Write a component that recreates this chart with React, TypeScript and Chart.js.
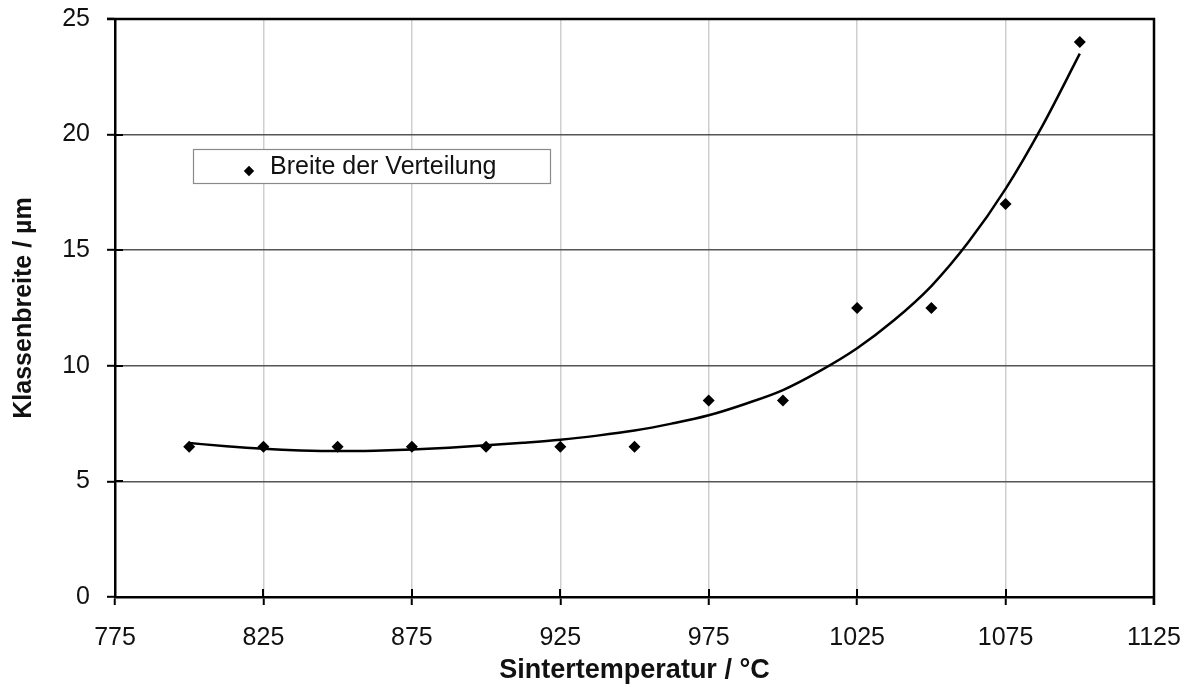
import React, { useEffect, useRef } from "react";
import { Chart, registerables } from "chart.js";

Chart.register(...registerables);

// ---- Data ----
const xTickValues = [775, 825, 875, 925, 975, 1025, 1075, 1125];
const temperatures = [800, 825, 850, 875, 900, 925, 950, 975, 1000, 1025, 1050, 1075, 1100];
const classWidths = [6.5, 6.5, 6.5, 6.5, 6.5, 6.5, 6.5, 8.5, 8.5, 12.5, 12.5, 17, 24];
const trendTemps = [
  800, 812.5, 825, 837.5, 850, 862.5, 875, 887.5, 900, 912.5, 925, 937.5, 950,
  962.5, 975, 987.5, 1000, 1012.5, 1025, 1037.5, 1050, 1062.5, 1075, 1087.5, 1100,
];
const trendWidths = [
  6.66, 6.52, 6.41, 6.34, 6.31, 6.33, 6.38, 6.46, 6.56, 6.67, 6.8, 6.98, 7.2,
  7.5, 7.86, 8.36, 8.95, 9.78, 10.76, 11.98, 13.45, 15.35, 17.65, 20.4, 23.5,
];
const legendLabel = "Breite der Verteilung";
const xTitle = "Sintertemperatur / °C";
const yTitle = "Klassenbreite / µm";

const FONT = "'Liberation Sans', Arial, sans-serif";

const framePlugin = {
  id: "frame",
  afterDraw(chart: any) {
    const { ctx, chartArea, scales } = chart;
    const { left, right, top, bottom } = chartArea;
    ctx.save();
    // inward tick halves
    ctx.strokeStyle = "#000";
    ctx.lineWidth = 2;
    ctx.beginPath();
    xTickValues.forEach((v) => {
      const px = Math.round(scales.x.getPixelForValue(v));
      ctx.moveTo(px, bottom);
      ctx.lineTo(px, bottom - 8);
    });
    scales.y.ticks.forEach((t: any) => {
      const py = Math.round(scales.y.getPixelForValue(t.value));
      ctx.moveTo(left, py);
      ctx.lineTo(left + 8, py);
    });
    ctx.stroke();
    // top and right border
    ctx.lineWidth = 2.5;
    ctx.beginPath();
    ctx.moveTo(left - 8, top);
    ctx.lineTo(right, top);
    ctx.lineTo(right, bottom + 8);
    ctx.stroke();
    // legend box
    const bx = left + 78;
    const by = top + 130;
    const bw = 357;
    const bh = 34;
    ctx.fillStyle = "#fff";
    ctx.fillRect(bx, by, bw, bh);
    ctx.strokeStyle = "#8a8a8a";
    ctx.lineWidth = 1.2;
    ctx.strokeRect(bx + 0.5, by + 0.5, bw, bh);
    // legend marker
    const mx = bx + 56;
    const my = by + 22;
    const r = 5.2;
    ctx.fillStyle = "#000";
    ctx.beginPath();
    ctx.moveTo(mx, my - r);
    ctx.lineTo(mx + r, my);
    ctx.lineTo(mx, my + r);
    ctx.lineTo(mx - r, my);
    ctx.closePath();
    ctx.fill();
    // legend text
    ctx.font = `25px ${FONT}`;
    ctx.fillStyle = "#111";
    ctx.textBaseline = "middle";
    ctx.textAlign = "left";
    ctx.fillText(legendLabel, bx + 77, by + 18);
    ctx.restore();
  },
};

export default function App() {
  const canvasRef = useRef<HTMLCanvasElement | null>(null);

  useEffect(() => {
    if (!canvasRef.current) return;
    const chart = new Chart(canvasRef.current, {
      type: "scatter",
      data: {
        datasets: [
          {
            label: "Trend",
            type: "line",
            data: trendTemps.map((t, i) => ({ x: t, y: trendWidths[i] })),
            borderColor: "#000",
            borderWidth: 2.5,
            pointRadius: 0,
            cubicInterpolationMode: "monotone",
            fill: false,
            order: 2,
          } as any,
          {
            label: legendLabel,
            data: temperatures.map((t, i) => ({ x: t, y: classWidths[i] })),
            pointStyle: "rectRot",
            pointRadius: 6,
            backgroundColor: "#000",
            borderColor: "#000",
            borderWidth: 0,
            order: 1,
          },
        ],
      },
      options: {
        animation: false,
        responsive: true,
        maintainAspectRatio: false,
        layout: { padding: { top: 19, right: 39, left: 0, bottom: 0 } },
        plugins: {
          legend: { display: false },
          tooltip: { enabled: false },
        },
        scales: {
          x: {
            type: "linear",
            min: 775,
            max: 1125,
            afterBuildTicks: (s: any) => {
              s.ticks = xTickValues.map((v) => ({ value: v }));
            },
            afterFit: (s: any) => {
              s.height = 90;
              s.paddingLeft = 0;
              s.paddingRight = 0;
            },
            grid: {
              color: "#cfcfcf",
              lineWidth: 1.5,
              tickLength: 8,
              tickColor: "#000",
              tickWidth: 2,
            },
            border: { display: true, color: "#000", width: 2.5 },
            ticks: {
              color: "#111",
              font: { family: FONT, size: 25 },
              padding: 18,
              maxRotation: 0,
              callback: (v: any) => String(v),
            },
            title: {
              display: true,
              text: xTitle,
              color: "#111",
              font: { family: FONT, size: 27, weight: "bold" },
              padding: { top: 4, bottom: 0 },
            },
          },
          y: {
            min: 0,
            max: 25,
            ticks: {
              stepSize: 5,
              color: "#111",
              font: { family: FONT, size: 25 },
              padding: 17,
            },
            afterFit: (s: any) => {
              s.width = 115;
              s.paddingTop = 0;
              s.paddingBottom = 0;
            },
            grid: {
              color: "#555",
              lineWidth: 1.6,
              tickLength: 8,
              tickColor: "#000",
              tickWidth: 2,
            },
            border: { display: true, color: "#000", width: 2.5 },
            title: {
              display: true,
              text: yTitle,
              color: "#111",
              font: { family: FONT, size: 25, weight: "bold" },
              padding: { top: 9, bottom: 0 },
            },
          },
        },
      },
      plugins: [framePlugin],
    });
    return () => chart.destroy();
  }, []);

  return (
    <div
      style={{
        position: "fixed",
        left: 0,
        top: 0,
        width: 1193,
        height: 687,
        background: "#fff",
      }}
    >
      <canvas ref={canvasRef} />
    </div>
  );
}
